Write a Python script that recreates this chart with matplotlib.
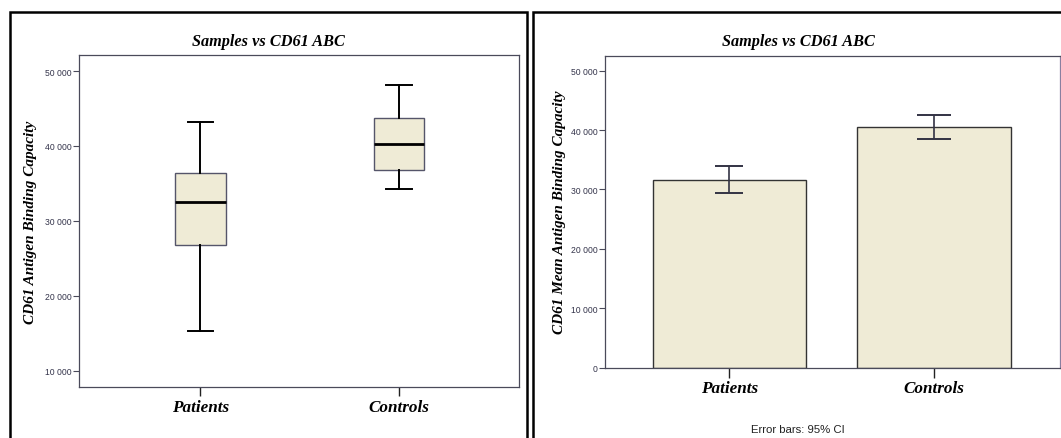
import matplotlib
matplotlib.use("Agg")
import matplotlib.pyplot as plt
from matplotlib.patches import Rectangle
from matplotlib.ticker import FuncFormatter

# ---- data ----
groups = ["Patients", "Controls"]

# box plot summary of CD61 antigen binding capacity
whisker_low = [15300, 34250]
q1 = [26750, 36800]
median = [32550, 40250]
q3 = [36400, 43750]
whisker_high = [43150, 48150]

# mean with 95% CI
means = [31580, 40460]
ci_low = [29430, 38440]
ci_high = [33880, 42580]

box_ticks = [10000, 20000, 30000, 40000, 50000]
bar_ticks = [0, 10000, 20000, 30000, 40000, 50000]

title_text = "Samples vs CD61 ABC"
box_ylabel = "CD61 Antigen Binding Capacity"
bar_ylabel = "CD61 Mean Antigen Binding Capacity"
note_text = "Error bars: 95% CI"

# ---- style ----
W, H = 1061, 439
fill = "#EFEBD6"
edge_col = "#4a4a5a"
tick_col = "#33334a"
serif = "Liberation Serif"
sans = "Liberation Sans"

fig = plt.figure(figsize=(W / 100, H / 100), dpi=100)


def fx(px):
    return px / W


def fy(py):
    return 1 - py / H


def thousands(v, pos):
    v = int(round(v))
    if v == 0:
        return "0"
    return f"{v:,}".replace(",", " ")


def style_axes(ax, ticks, xtick_len):
    for s in ax.spines.values():
        s.set_color(edge_col)
        s.set_linewidth(0.9)
    ax.set_yticks(ticks)
    ax.yaxis.set_major_formatter(FuncFormatter(thousands))
    ax.tick_params(axis="y", length=4.3, width=0.8, color=edge_col,
                   labelsize=6.2, labelcolor=tick_col, pad=1)
    for lab in ax.get_yticklabels():
        lab.set_fontfamily(sans)
    ax.set_xticks([0, 1])
    ax.set_xticklabels(groups, fontfamily=serif, fontweight="bold",
                       fontstyle="italic", fontsize=12.3)
    ax.tick_params(axis="x", length=xtick_len, width=1.0, color="#222222", pad=2)


label_kw = dict(fontfamily=serif, fontweight="bold", fontstyle="italic")

# panel frames
fig.patches.append(Rectangle((fx(10), fy(445)), fx(527) - fx(10), fy(13) - fy(445),
                             transform=fig.transFigure, fill=False,
                             edgecolor="black", linewidth=1.8))
fig.patches.append(Rectangle((fx(533), fy(445)), fx(1070) - fx(533), fy(13) - fy(445),
                             transform=fig.transFigure, fill=False,
                             edgecolor="black", linewidth=1.8))

# ---- left panel: box plot ----
ax1 = fig.add_axes([fx(78.7), fy(388), fx(518.5) - fx(78.7), fy(56) - fy(388)])
stats = []
for i, g in enumerate(groups):
    stats.append(dict(label=g, whislo=whisker_low[i], q1=q1[i], med=median[i],
                      q3=q3[i], whishi=whisker_high[i], fliers=[]))
ax1.bxp(stats, positions=[0, 1], widths=0.255, patch_artist=True, showfliers=False,
        boxprops=dict(facecolor=fill, edgecolor="#55556a", linewidth=1.0),
        medianprops=dict(color="black", linewidth=2.0),
        whiskerprops=dict(color="black", linewidth=1.4),
        capprops=dict(color="black", linewidth=1.4), capwidths=0.127)
ax1.set_xlim(-0.612, 1.602)
ax1.set_ylim(7800, 52140)
style_axes(ax1, box_ticks, 6.5)
fig.text(fx(31), (fy(388) + fy(56)) / 2, box_ylabel, rotation=90, ha="center",
         va="center", fontsize=11, **label_kw)
fig.text(fx(268.5), fy(42), title_text, ha="center", va="center", fontsize=11.7,
         **label_kw)

# ---- right panel: mean bars with 95% CI ----
ax2 = fig.add_axes([fx(604.9), fy(368.5), fx(1060) - fx(604.9), fy(56.7) - fy(368.5)])
ax2.bar([0, 1], means, width=0.75, color=fill, edgecolor="#333333", linewidth=1.0)
caps = [10.3, 12.5]
for i in range(2):
    ax2.errorbar([i], [means[i]],
                 yerr=[[means[i] - ci_low[i]], [ci_high[i] - means[i]]],
                 fmt="none", ecolor="#333344", elinewidth=1.2, capsize=caps[i],
                 capthick=1.4)
ax2.set_xlim(-0.608, 1.615)
ax2.set_ylim(0, 52530)
style_axes(ax2, bar_ticks, 7)
ax2.spines["right"].set_color("#8a7fa0")
fig.text(fx(559), (fy(368.5) + fy(56.7)) / 2, bar_ylabel, rotation=90, ha="center",
         va="center", fontsize=11, **label_kw)
fig.text(fx(798), fy(42.5), title_text, ha="center", va="center", fontsize=11.7,
         **label_kw)
fig.text(fx(798), fy(430), note_text, ha="center", va="center", fontfamily=sans,
         fontsize=8.2, color="#222222")

fig.savefig("out.png", dpi=100)
